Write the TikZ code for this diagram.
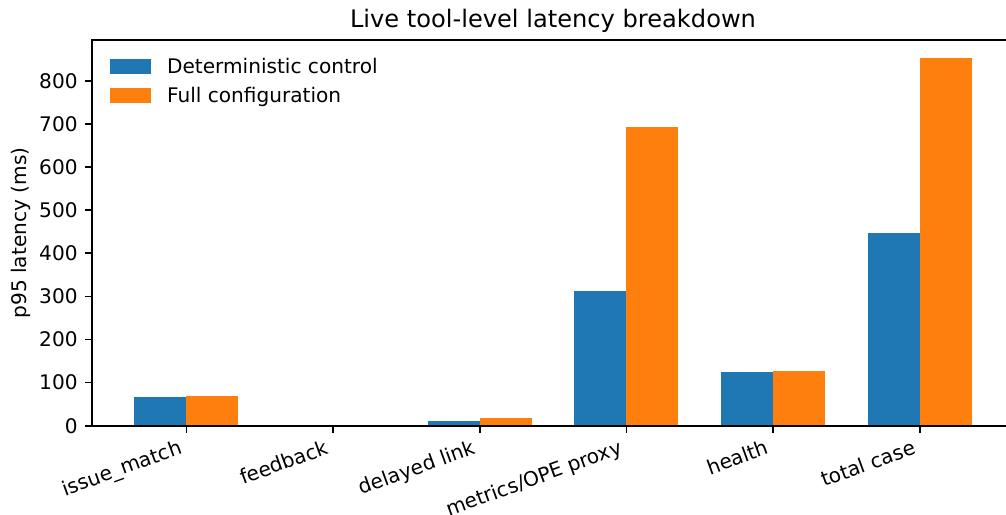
\documentclass[tikz,border=0pt]{standalone}
\usepackage{fontspec}
\setmainfont{DejaVu Sans}
\definecolor{cA}{HTML}{1F77B4}
\definecolor{cB}{HTML}{FF7F0E}
\begin{document}
\begin{tikzpicture}[x=0.5pt,y=-0.5pt,
  lab/.style={font=\fontsize{10.05}{11}\selectfont, inner sep=0pt},
  xlab/.style={lab, rotate=20, anchor=south east, text height=0.76em, text depth=0.24em},
  spine/.style={line width=0.8pt, line cap=rect},
  tickmark/.style={line width=0.8pt},
  barA/.style={fill=cA},
  barB/.style={fill=cB}]
\useasboundingbox (0,0) rectangle (1006,514);
\clip (0,0) rectangle (1006,514);
% bars
\foreach \c/\a/\b in {186.3/66.5/68.9, 333.0/0/0, 479.7/10.9/17.9, 626.4/312.3/692.6, 773.1/124.5/126.8, 919.8/446.8/852.6}{
  \fill[barA] (\c-52,425.7) rectangle (\c,{425.7-0.43125*\a});
  \fill[barB] (\c,425.7) rectangle (\c+52,{425.7-0.43125*\b});
}
% spines
\draw[spine] (1014,40) -- (92,40) -- (92,425.7) -- (1014,425.7);
% y ticks
\foreach \v in {0,100,...,800}{
  \draw[tickmark] (92,{425.7-0.43125*\v}) -- (85,{425.7-0.43125*\v});
  \node[lab, anchor=east] (yt\v) at (78,{425.7-0.43125*\v}) {\v};
}
% x ticks
\foreach \c/\t/\n in {186.3/issue\_match/a, 333.0/feedback/b, 479.7/delayed link/c, 626.4/metrics\slash OPE proxy/d, 773.1/health/e, 919.8/total case/f}{
  \draw[tickmark] (\c,425.7) -- (\c,432.7);
  \node[xlab] (xt\n) at (\c-1,458) {\t};
}
% labels
\node[lab, rotate=90] (ylab) at (21,233) {p95 latency (ms)};
\node[lab, font=\fontsize{12.06}{13}\selectfont, anchor=base] (title) at (553,27) {Live tool-level latency breakdown};
% legend
\fill[barA] (110,59) rectangle (151,73.7);
\fill[barB] (110,88) rectangle (151,102.7);
\node[lab, anchor=base west] (lg1) at (166.7,73.3) {Deterministic control};
\node[lab, anchor=base west] (lg2) at (166.7,102.7) {Full configuration};
\end{tikzpicture}
\end{document}
